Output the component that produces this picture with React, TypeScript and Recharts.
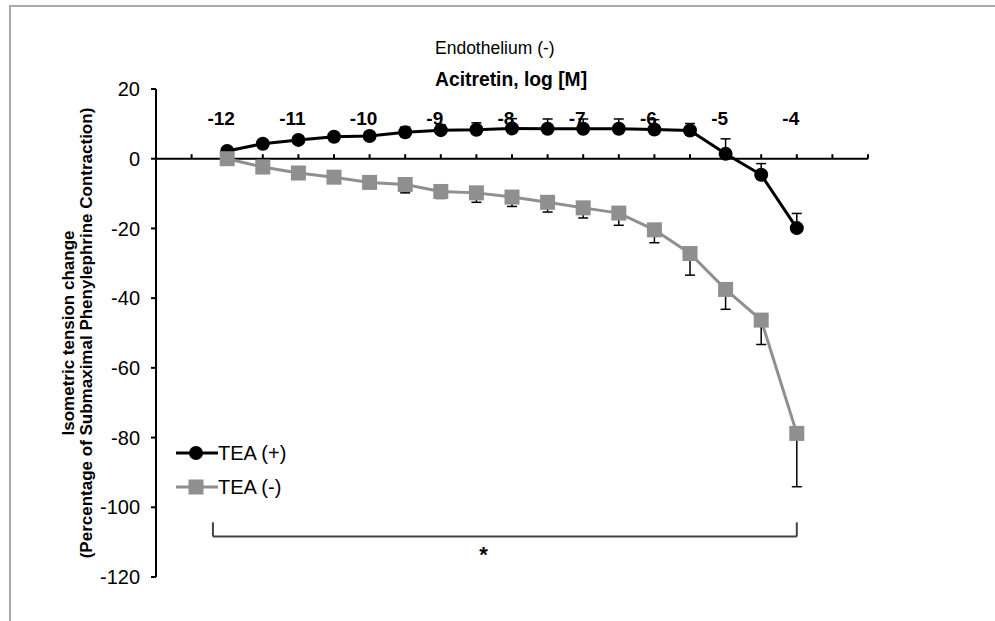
import { ComposedChart, Line, XAxis, YAxis, ErrorBar, ReferenceLine, ReferenceDot } from 'recharts'

// log [M] acitretin concentrations
const concentrations = [-12, -11.5, -11, -10.5, -10, -9.5, -9, -8.5, -8, -7.5, -7, -6.5, -6, -5.5, -5, -4.5, -4]
const teaPlus = [2.2, 4.3, 5.4, 6.3, 6.5, 7.6, 8.2, 8.3, 8.7, 8.6, 8.6, 8.6, 8.4, 8.1, 1.4, -4.6, -19.9]
const teaPlusErr = [0.5, 1, 1, 1, 1.2, 1.5, 1.5, 2, 2.8, 2.8, 2.8, 2.8, 2.8, 2, 4.3, 3.2, 4.2]
const teaMinus = [0, -2.4, -4.1, -5.3, -6.8, -7.4, -9.4, -9.8, -11, -12.5, -14.1, -15.6, -20.4, -27.2, -37.5, -46.3, -78.8]
const teaMinusErr = [0.5, 0.8, 1, 1, 1.5, 2.4, 2, 2.7, 2.7, 2.8, 2.9, 3.5, 3.7, 6.2, 5.7, 7, 15.3]

const xLabels = [-12, -11, -10, -9, -8, -7, -6, -5, -4]
const xMinorTicks = [-12.5, -12, -11.5, -11, -10.5, -10, -9.5, -9, -8.5, -8, -7.5, -7, -6.5, -6, -5.5, -5, -4.5, -4, -3.5, -3]
const yTicks = [-120, -100, -80, -60, -40, -20, 0, 20]

// significance bracket between -12 and -4
const bracketX = [-12.2, -4]
const bracketY = [-104.3, -108.4]
const starPos = { x: -8.4, y: -113.5 }

const FONT = '"Liberation Sans", Arial, sans-serif'
const GREY = '#8f8f8f'

const data = concentrations.map((c, i) => ({
  conc: c,
  plus: teaPlus[i],
  plusErr: [0, teaPlusErr[i]],
  minus: teaMinus[i],
  minusErr: [teaMinusErr[i], 0],
}))

const XTick = ({ x, payload }: any) => (
  <text x={x - 6} y={125} textAnchor="middle" fontSize={19} fontWeight="bold" fontFamily={FONT} fill="#000">
    {payload.value}
  </text>
)

const SquareDot = ({ cx, cy, index }: any) => (
  <rect key={'sq' + index} x={cx - 7.5} y={cy - 7.5} width={15} height={15} fill={GREY} />
)

const LegendBox = () => (
  <div style={{ position: 'absolute', left: 176, top: 436, fontFamily: FONT, fontSize: 20, color: '#000' }}>
    <div style={{ display: 'flex', alignItems: 'center', height: 34 }}>
      <svg width={42} height={16}>
        <line x1={0} y1={8} x2={42} y2={8} stroke="#000" strokeWidth={3} />
        <circle cx={20} cy={8} r={7} fill="#000" />
      </svg>
      <span>TEA (+)</span>
    </div>
    <div style={{ display: 'flex', alignItems: 'center', height: 34 }}>
      <svg width={42} height={16}>
        <line x1={0} y1={8} x2={42} y2={8} stroke={GREY} strokeWidth={3} />
        <rect x={12.5} y={0.5} width={15} height={15} fill={GREY} />
      </svg>
      <span>TEA (-)</span>
    </div>
  </div>
)

export default function App() {
  return (
    <div style={{ position: 'absolute', left: 0, top: 0, width: 995, height: 621, background: '#fff' }}>
      <div style={{ position: 'absolute', left: 9, top: 5, right: 0, bottom: 0, borderTop: '2px solid #aaa', borderLeft: '2px solid #aaa' }} />
      <div style={{ position: 'absolute', left: 435, top: 38, fontFamily: FONT, fontSize: 17.5, color: '#000' }}>Endothelium (-)</div>
      <div style={{ position: 'absolute', left: 435, top: 69, fontFamily: FONT, fontSize: 19.3, fontWeight: 'bold', color: '#000' }}>Acitretin, log [M]</div>
      <ComposedChart width={995} height={621} data={data} margin={{ top: 69, right: 127, bottom: 44, left: 0 }} style={{ position: 'absolute', left: 0, top: 0 }}>
        <XAxis
          dataKey="conc"
          type="number"
          orientation="top"
          domain={[-13, -3]}
          ticks={xLabels}
          height={20}
          axisLine={false}
          tickLine={false}
          tick={<XTick />}
          interval={0}
        />
        <YAxis
          type="number"
          domain={[-120, 20]}
          ticks={yTicks}
          width={156}
          axisLine={{ stroke: '#000', strokeWidth: 2 }}
          tickLine={{ stroke: '#000', strokeWidth: 2 }}
          tickSize={5}
          tickMargin={11}
          tick={{ fontSize: 20, fill: '#000', fontFamily: FONT }}
          label={{
            content: ({ viewBox }: any) => {
              const cy = viewBox.y + viewBox.height / 2
              return (
                <g fontFamily={FONT} fontSize={17} fontWeight="bold" fill="#000" textAnchor="middle">
                  <text x={68} y={cy} transform={`rotate(-90 68 ${cy})`} dominantBaseline="central">Isometric tension change</text>
                  <text x={86} y={cy} transform={`rotate(-90 86 ${cy})`} dominantBaseline="central">(Percentage of Submaximal Phenylephrine Contraction)</text>
                </g>
              )
            },
          }}
        />
        <ReferenceLine y={0} stroke="#000" strokeWidth={2} />
        {xMinorTicks.map((t) => (
          <ReferenceLine key={t} segment={[{ x: t, y: 0 }, { x: t, y: 1.3 }]} stroke="#000" strokeWidth={2} />
        ))}
        <ReferenceLine segment={[{ x: bracketX[0], y: bracketY[1] }, { x: bracketX[1], y: bracketY[1] }]} stroke="#444" strokeWidth={2} />
        <ReferenceLine segment={[{ x: bracketX[0], y: bracketY[0] }, { x: bracketX[0], y: bracketY[1] }]} stroke="#444" strokeWidth={2} />
        <ReferenceLine segment={[{ x: bracketX[1], y: bracketY[0] }, { x: bracketX[1], y: bracketY[1] }]} stroke="#444" strokeWidth={2} />
        <ReferenceDot
          x={starPos.x}
          y={starPos.y}
          r={0}
          shape={(p: any) => (
            <text x={p.cx} y={p.cy + 8} textAnchor="middle" fontSize={22} fontWeight="bold" fontFamily={FONT} fill="#000">*</text>
          )}
        />
        <Line
          dataKey="plus"
          stroke="#000"
          strokeWidth={3}
          dot={{ r: 7, fill: '#000', stroke: '#000', strokeWidth: 0 }}
          activeDot={false}
          isAnimationActive={false}
        >
          <ErrorBar dataKey="plusErr" direction="y" width={5} stroke="#000" strokeWidth={1.5} isAnimationActive={false} />
        </Line>
        <Line
          dataKey="minus"
          stroke={GREY}
          strokeWidth={3}
          dot={<SquareDot />}
          activeDot={false}
          isAnimationActive={false}
        >
          <ErrorBar dataKey="minusErr" direction="y" width={5} stroke="#000" strokeWidth={1.5} isAnimationActive={false} />
        </Line>
      </ComposedChart>
      <LegendBox />
    </div>
  )
}
